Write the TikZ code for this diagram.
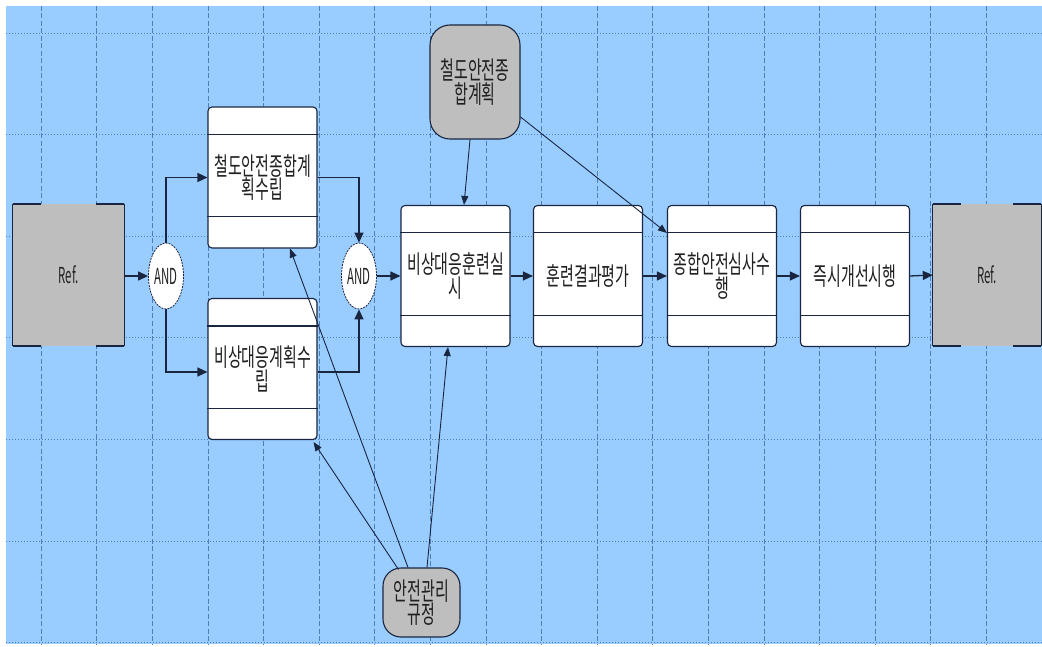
\documentclass[tikz,border=0pt]{standalone}
\usepackage{fontspec}
\newfontfamily\kr[FakeStretch=0.6]{Noto Sans CJK KR}
\newfontfamily\krn[FakeStretch=0.52]{Noto Sans CJK KR}
\usetikzlibrary{shapes.geometric,arrows.meta}
\definecolor{bgblue}{HTML}{99CCFF}
\definecolor{gridblue}{HTML}{4F7DB8}
\definecolor{navy}{HTML}{1A2640}
\definecolor{grayfill}{HTML}{BEBEBE}
\definecolor{txt}{HTML}{202020}
\tikzset{
  x=1pt, y=-1pt,
  vgrid/.style={gridblue, line width=0.6pt, dash pattern=on 5pt off 2.5pt},
  hgrid/.style={gridblue, line width=0.8pt, dash pattern=on 1.2pt off 1.8pt},
  lbl/.style={font=\kr\fontsize{25}{21.5}\selectfont, text=txt, align=center},
  latin/.style={font=\krn\fontsize{22}{21}\selectfont},
  procbox/.style={lbl, draw=navy, line width=1.1pt, fill=white, rounded corners=4pt,
     minimum width=109pt, minimum height=141pt, inner sep=0pt},
  divider/.style={navy, line width=1.1pt},
  andnode/.style={lbl, latin, ellipse, draw=navy, line width=0.8pt, dash pattern=on 2pt off 1pt,
     fill=white, minimum width=35pt, minimum height=66pt, inner sep=0pt},
  refbox/.style={lbl, latin, fill=grayfill, minimum height=142pt, inner sep=0pt},
  grayctl/.style={lbl, draw=navy, line width=1.1pt, fill=grayfill, inner sep=0pt},
  flow/.style={navy, line width=1.3pt, -{Triangle[length=10pt,width=9pt]}},
  feed/.style={navy, line width=0.9pt, -{Triangle[length=9pt,width=7pt]}},
}
\begin{document}
\begin{tikzpicture}
% canvas
\fill[white] (0,0) rectangle (1042,647);
\useasboundingbox (0,0) rectangle (1042,647);
\fill[bgblue] (6,6) rectangle (1042,644);
% grid
\foreach \k in {0,...,18} {
  \draw[vgrid] ({41+55.6*\k},6) -- ({41+55.6*\k},644);
}
\foreach \k in {0,...,6} {
  \draw[hgrid] (6,{33+101.6*\k}) -- (1042,{33+101.6*\k});
}
% reference nodes
\node[refbox, minimum width=111pt] (r1) at (68.5,275) {Ref.};
\node[refbox, minimum width=108pt] (r2) at (987,275) {Ref.};
\foreach \r in {r1,r2} {
  \draw[navy, line width=0.8pt] (\r.north west) -- (\r.south west);
  \draw[navy, line width=0.8pt] (\r.north east) -- (\r.south east);
  \draw[navy, line width=1.8pt] (\r.north west) -- ++(28,0);
  \draw[navy, line width=1.8pt] (\r.north east) -- ++(-28,0);
  \draw[navy, line width=1.8pt] (\r.south west) -- ++(28,0);
  \draw[navy, line width=1.8pt] (\r.south east) -- ++(-28,0);
}
% junctions
\node[andnode] (and1) at (166,276) {AND};
\node[andnode] (and2) at (359,276) {AND};
% activity boxes
\node[procbox] (b1) at (262.5,177.5) {철도안전종합계\\획수립};
\node[procbox] (b2) at (262.5,369) {비상대응계획수\\립};
\node[procbox] (b3) at (455.5,276) {비상대응훈련실\\시};
\node[procbox] (b4) at (588,276) {훈련결과평가};
\node[procbox] (b5) at (722,276) {종합안전심사수\\행};
\node[procbox] (b6) at (855,276) {즉시개선시행};
\foreach \b in {b1,b2,b3,b4,b5,b6} {
  \draw[divider] ([yshift=-28pt]\b.north west) -- ([yshift=-28pt]\b.north east);
  \draw[divider] ([yshift=32pt]\b.south west) -- ([yshift=32pt]\b.south east);
}
% controls
\node[grayctl, rounded corners=20pt, minimum width=90pt, minimum height=114pt] (g1) at (475,82) {철도안전종\\합계획};
\node[grayctl, rounded corners=18pt, minimum width=77pt, minimum height=69pt] (g2) at (421.5,602.5) {안전관리\\규정};
% main flow
\draw[flow] (r1.east |- and1.west) -- (and1.west);
\draw[flow] (and1.north) |- (b1.west);
\draw[flow] (and1.south) |- ([yshift=-3pt]b2.west);
\draw[flow] (b1.east) -| (and2.north);
\draw[flow] ([yshift=-3pt]b2.east) -| (and2.south);
\draw[flow] (and2.east) -- (b3.west);
\draw[flow] (b3) -- (b4);
\draw[flow] (b4) -- (b5);
\draw[flow] (b5) -- (b6);
\draw[flow] (b6.east) -- (r2.west);
% control arrows
\draw[feed] ([xshift=-5pt]g1.south) -- ([xshift=8.5pt]b3.north);
\draw[feed] ([yshift=-35pt]g1.east) -- ([yshift=43pt]b5.west);
\draw[feed] ([xshift=-13.5pt]g2.north) -- ([xshift=27.5pt]b1.south);
\draw[feed] ([xshift=-23pt,yshift=-2pt]g2.north) -- ([xshift=-4pt,yshift=-2pt]b2.south east);
\draw[feed] ([xshift=5.5pt]g2.north) -- ([xshift=-7.5pt]b3.south);
\end{tikzpicture}
\end{document}
